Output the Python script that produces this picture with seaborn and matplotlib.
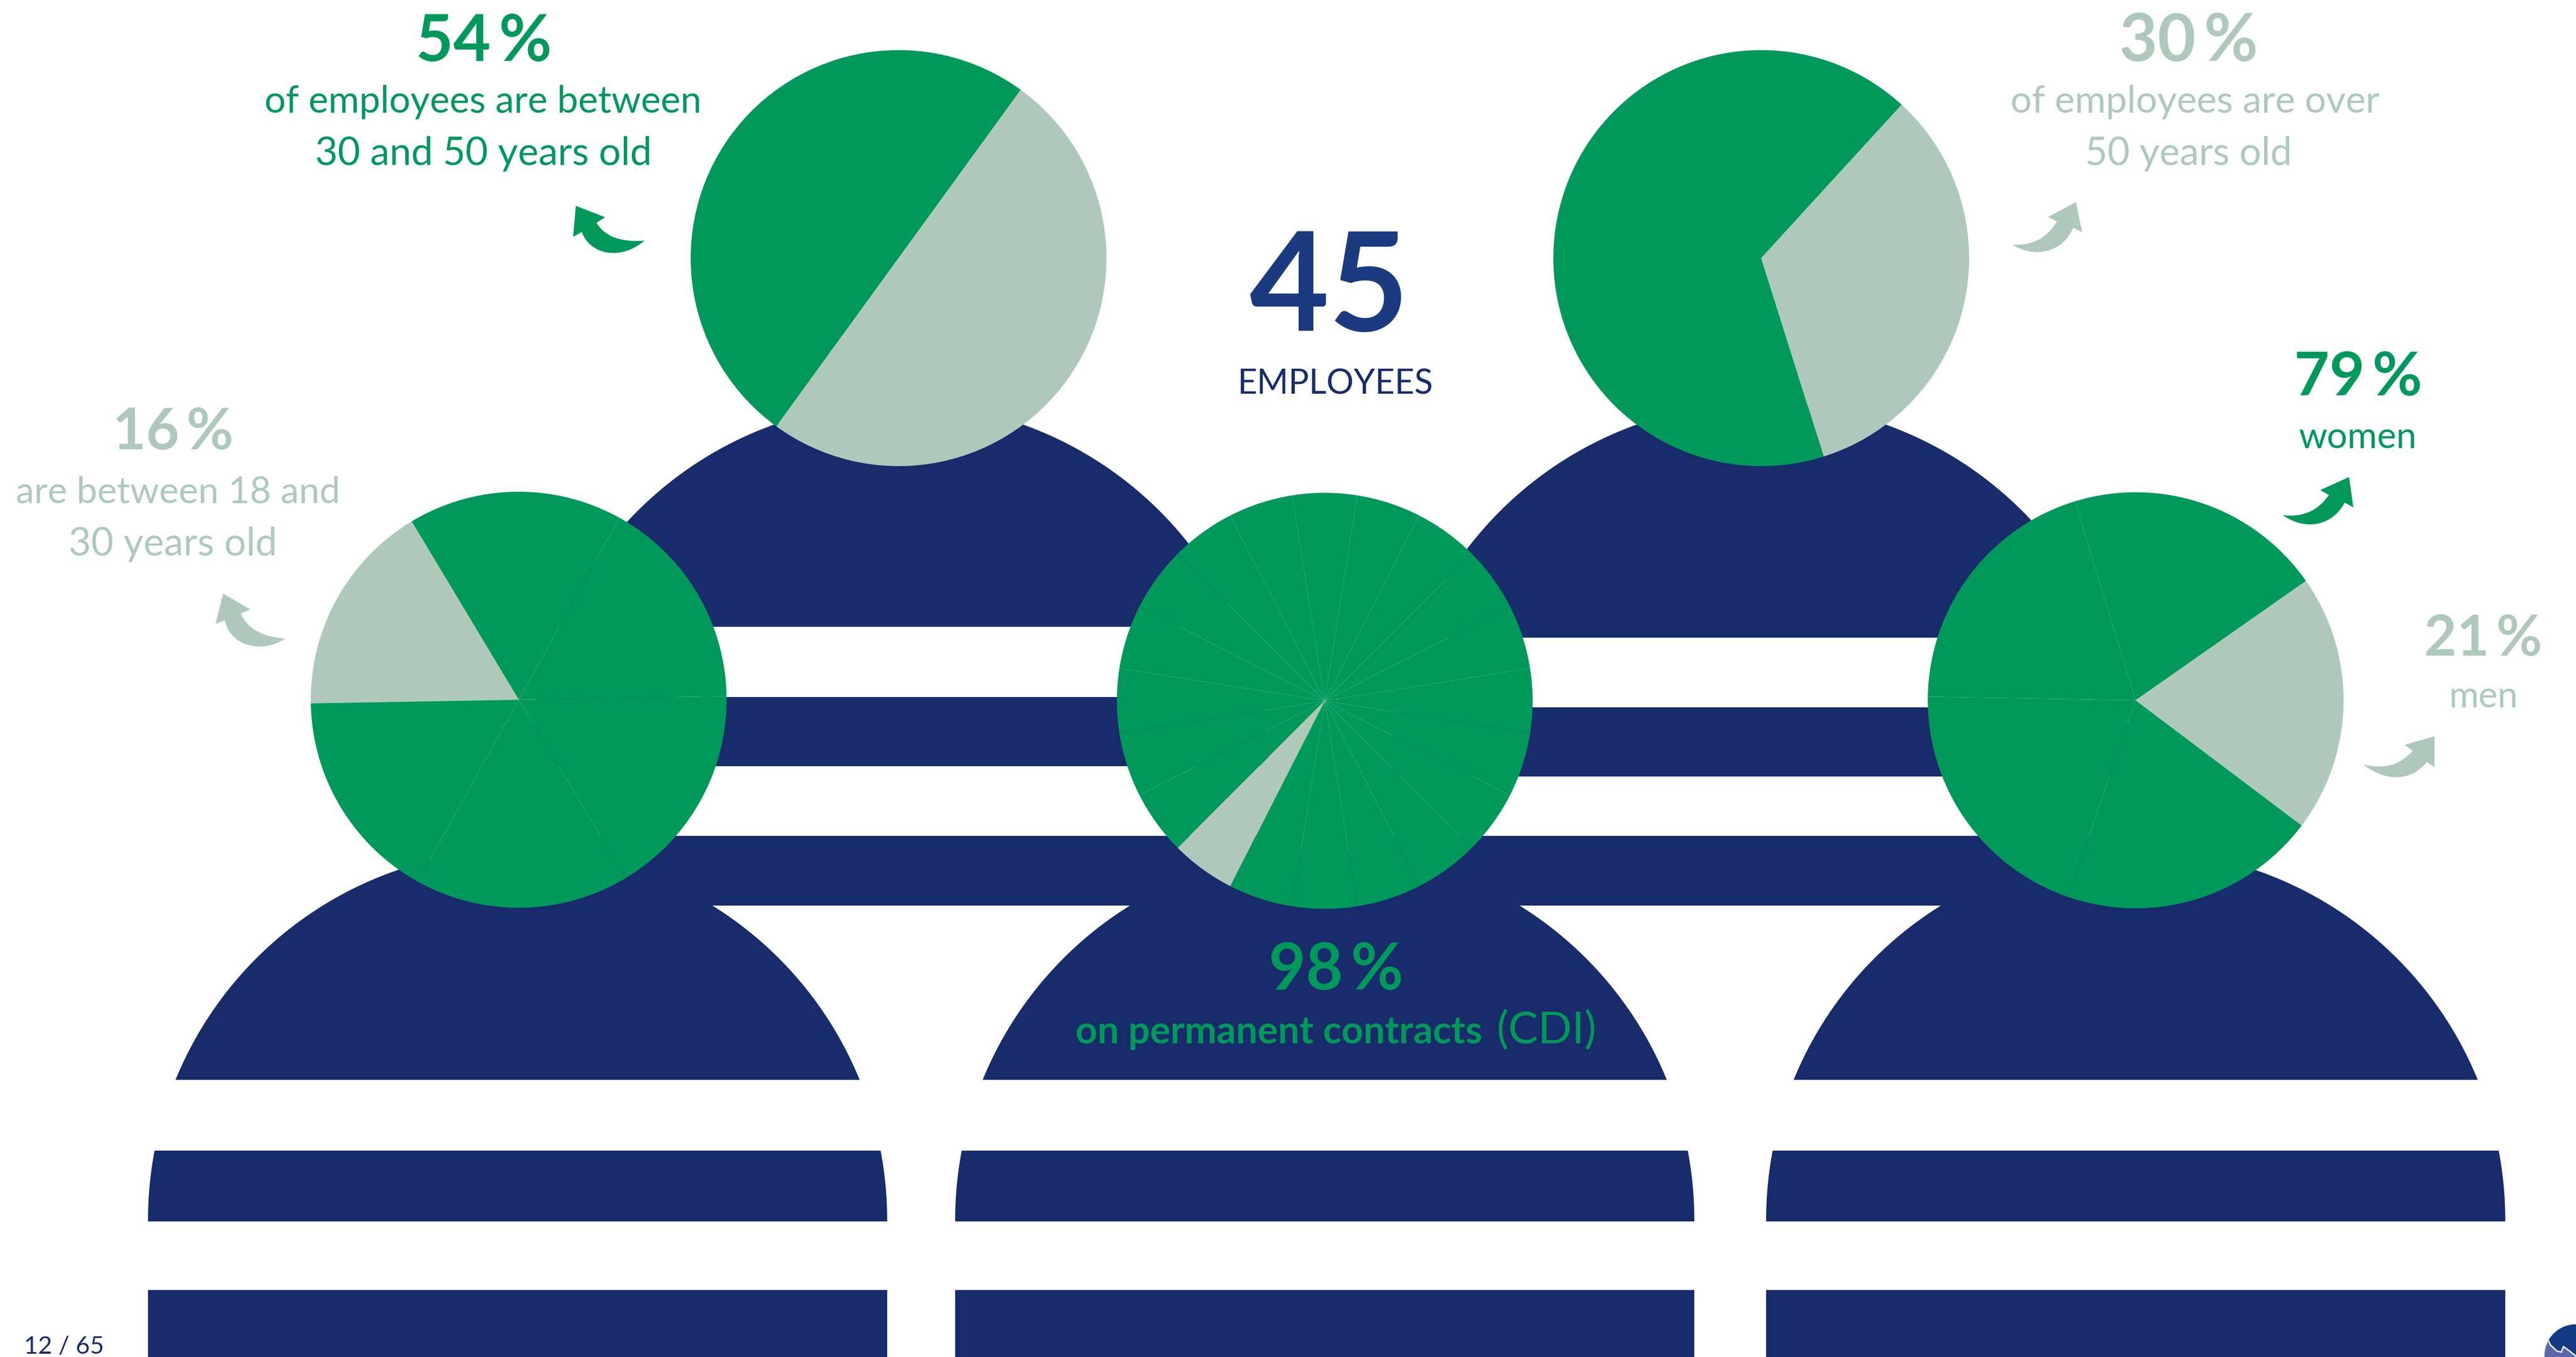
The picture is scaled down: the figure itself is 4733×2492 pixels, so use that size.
import numpy as np
import matplotlib
matplotlib.use("Agg")
import matplotlib.pyplot as plt
from matplotlib.patches import Circle, PathPatch, Polygon
from matplotlib.path import Path
import seaborn as sns

W, H = 4733, 2492

# Headcount slices drawn in each pie, and which slice is highlighted
age_30_50_slices = [1, 1]
age_30_50_light = 1
age_over_50_slices = [2, 1]
age_over_50_light = 1
age_18_30_slices = [1, 1, 1, 1, 1, 1]
age_18_30_light = 2
contract_slices = [1] * 20
contract_light = 12
gender_slices = [1, 1, 1, 1, 1]
gender_light = 4

big_labels = ["54\u2009%", "30\u2009%", "16\u2009%", "79\u2009%", "21\u2009%", "98\u2009%"]
sub_labels = ["of employees are between", "30 and 50 years old",
              "of employees are over", "50 years old",
              "are between 18 and", "30 years old",
              "women", "men"]
headcount = "45"
headcount_label = "EMPLOYEES"
contract_label = "on permanent contracts"
contract_suffix = "(CDI)"
page_label = "12 / 65"

sns.set_theme(style="white")
GREEN, LIGHT, NAVY, BLUE = sns.color_palette(["#00985B", "#AEC9BB", "#182B6B", "#1B3A7F"])
plt.rcParams["font.family"] = ["Lato", "DejaVu Sans"]

fig = plt.figure(figsize=(W / 100, H / 100), dpi=100, facecolor="white")
ax = fig.add_axes([0, 0, 1, 1])
R_HEAD = 382
R_BODY = 679


def Y(y):
    return H - y


def body_band(cx, cy, top, bottom, z):
    """One navy slice of a torso: a circular dome that runs on as straight sides."""
    ys = np.linspace(top, bottom, 240)
    half = np.where(ys < cy, np.sqrt(np.clip(R_BODY**2 - (cy - ys) ** 2, 0, None)), R_BODY)
    pts = np.r_[np.c_[cx - half, Y(ys)], np.c_[cx + half, Y(ys)][::-1]]
    ax.add_patch(Polygon(pts, closed=True, fc=NAVY, ec="none", zorder=z))


def head(values, light, start, cx, cy, z):
    colors = [LIGHT if i == light else GREEN for i in range(len(values))]
    wedges, _ = ax.pie(values, colors=colors, startangle=start, center=(cx, Y(cy)),
                       radius=R_HEAD, counterclock=True,
                       wedgeprops=dict(linewidth=0, edgecolor="none"))
    for w in wedges:
        w.set_zorder(z)


def arrow(pts, color, dx=0, dy=0, rot=0):
    """Curved callout arrow from nine key points, optionally rotated about its tip."""
    p = np.array(pts, float)
    tip = p[0].copy()
    a = np.deg2rad(rot)
    m = np.array([[np.cos(a), -np.sin(a)], [np.sin(a), np.cos(a)]])
    p = (p - tip) @ m.T + tip + [dx, dy]
    p[:, 1] = H - p[:, 1]
    t, b1, n1, c0, tail, c1, c2, n2, b2 = p
    verts = [t, b1, n1, c0, tail, c1, c2, n2, b2, t]
    codes = [Path.MOVETO, Path.LINETO, Path.LINETO, Path.CURVE3, Path.CURVE3,
             Path.CURVE4, Path.CURVE4, Path.CURVE4, Path.LINETO, Path.CLOSEPOLY]
    ax.add_patch(PathPatch(Path(verts, codes), fc=color, ec="none", zorder=8))


renderer = fig.canvas.get_renderer()


def label(s, cx, base, width, color, weight, ha="center", z=9):
    """Baseline-anchored text whose size is chosen to span the given width."""
    t = ax.text(cx, Y(base), s, ha=ha, va="baseline", color=color, fontweight=weight,
                fontsize=50, zorder=z)
    t.set_fontsize(50 * width / t.get_window_extent(renderer).width)
    return t


# Back row
for cx, top_end, bands in [(1651, 1151, [(1280, 1407), (1535, 1663)]),
                           (3236, 1171, [(1299, 1426), (1535, 1663)])]:
    body_band(cx, 1419, 1419 - R_BODY, top_end, 1)
    for a, b in bands:
        body_band(cx, 1419, a, b, 1)
head(age_30_50_slices, age_30_50_light, 54, 1651, 474, 2)
head(age_over_50_slices, age_over_50_light, 47.5, 3236, 474, 2)

# Front row
for cx in (951, 2434, 3924):
    body_band(cx, 2240, 2240 - R_BODY, 1983, 3)
    body_band(cx, 2240, 2113, 2243, 3)
    body_band(cx, 2240, 2369, H + 5, 3)
head(age_18_30_slices, age_18_30_light, 1, 953, 1285, 4)
head(contract_slices, contract_light, 9, 2434, 1287, 4)
head(gender_slices, gender_light, 35, 3924, 1286, 4)

# Callout arrows
arrow_up_left = [(1058, 378), (1112, 399), (1096, 409), (1118, 447), (1184, 442),
                 (1140, 480), (1083, 467), (1069, 426), (1053, 435)]
arrow_up_right = [(4316, 876), (4263, 900), (4279, 909), (4249, 953), (4194, 946),
                  (4237, 976), (4286, 965), (4308, 923), (4324, 932)]
arrow_flat_right = [(4473, 1352), (4418, 1368), (4433, 1379), (4399, 1418), (4342, 1404),
                    (4391, 1441), (4435, 1430), (4459, 1399), (4473, 1409)]
arrow(arrow_up_left, GREEN)
arrow(arrow_up_left, LIGHT, dx=410 - 1058, dy=1090 - 378, rot=9)
arrow(arrow_up_right, GREEN)
arrow(arrow_up_right, LIGHT, dx=3814 - 4316, dy=371 - 876, rot=-4)
arrow(arrow_flat_right, LIGHT)

# Callout text
label(big_labels[0], 889, 112, 250, GREEN, "bold")
label(sub_labels[0], 887, 207, 802, GREEN, "regular")
label(sub_labels[1], 888, 303, 619, GREEN, "regular")
label(big_labels[1], 4021, 112, 255, LIGHT, "bold")
label(sub_labels[2], 4033, 207, 679, LIGHT, "regular")
label(sub_labels[3], 4021, 303, 380, LIGHT, "regular")
label(big_labels[2], 318, 825, 222, LIGHT, "bold")
label(sub_labels[4], 327, 924, 595, LIGHT, "regular")
label(sub_labels[5], 318, 1020, 383, LIGHT, "regular")
label(big_labels[3], 4333, 726, 236, GREEN, "bold")
label(sub_labels[6], 4332, 823, 217, GREEN, "regular")
label(big_labels[4], 4562, 1204, 217, LIGHT, "bold")
label(sub_labels[7], 4563, 1299, 127, LIGHT, "regular")
label(big_labels[5], 2455, 1817, 248, GREEN, "bold")
label(contract_label, 1976, 1916, 749, GREEN, "bold", ha="left")
label(contract_suffix, 2749, 1916, 184, GREEN, "regular", ha="left")
label(headcount, 2442, 608, 294, BLUE, "bold")
label(headcount_label, 2453, 724, 360, NAVY, "regular")
label(page_label, 118, 2486, 147, NAVY, "regular")

# Corner emblem, cut off by the page edge
emblem = Circle((4733, Y(2490)), 58, transform=ax.transData, fc="#5B68A8", ec="none", zorder=9)
ax.add_patch(emblem)
edge = [(4679, 2455), (4686, 2470), (4698, 2481), (4706, 2483), (4710, 2473), (4720, 2480), (4735, 2492)]
xs = [p[0] for p in edge]
ys = [Y(p[1]) for p in edge]
dark = Polygon(np.r_[np.c_[xs, ys], [[4800, Y(2492)], [4800, Y(2400)], [4660, Y(2400)]]],
               closed=True, fc="#123A82", ec="none", zorder=10)
ax.add_patch(dark)
dark.set_clip_path(Circle((4733, Y(2490)), 58, transform=ax.transData))
shine, = ax.plot(xs, ys, color="white", lw=1.8, zorder=11, solid_joinstyle="miter")
shine.set_clip_path(Circle((4733, Y(2490)), 58, transform=ax.transData))

ax.set_xlim(0, W)
ax.set_ylim(0, H)
ax.axis("off")
fig.savefig("out.png", dpi=100, facecolor="white")
